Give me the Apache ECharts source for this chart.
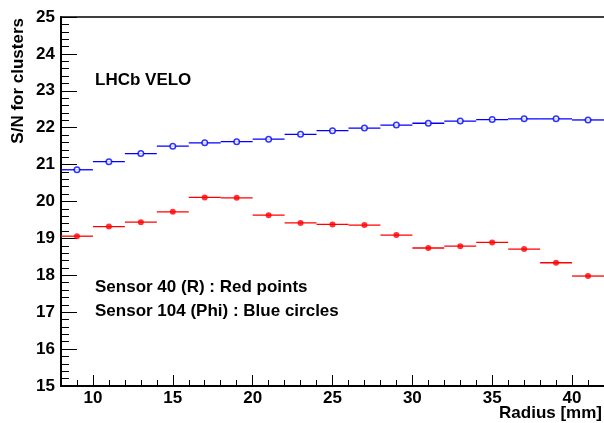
<!DOCTYPE html>
<html>
<head>
<meta charset="utf-8">
<script src="https://cdn.jsdelivr.net/npm/echarts@6/dist/echarts.min.js"></script>
<style>
  html, body { margin: 0; padding: 0; background: #fff; }
  #chart { width: 604px; height: 423px; }
</style>
</head>
<body>
<div id="chart"></div>
<script>
// bin centres (mm), each bin is 2 mm wide
var radius = [9, 11, 13, 15, 17, 19, 21, 23, 25, 27, 29, 31, 33, 35, 37, 39, 41];
// Sensor 40 (R) - red points
var snR = [19.06, 19.32, 19.44, 19.72, 20.11, 20.10, 19.63, 19.42, 19.38, 19.36, 19.09, 18.74, 18.79, 18.89, 18.71, 18.34, 17.98];
// Sensor 104 (Phi) - blue circles
var snPhi = [20.86, 21.08, 21.30, 21.50, 21.59, 21.62, 21.69, 21.82, 21.92, 21.99, 22.07, 22.12, 22.18, 22.22, 22.24, 22.24, 22.21];
var xMajor = [10, 15, 20, 25, 30, 35, 40];
var halfBin = 1;

var FONT = '"Liberation Sans", Arial, Helvetica, sans-serif';

function pairs(ys) {
    var out = [];
    for (var i = 0; i < radius.length; i++) {
        out.push([radius[i], ys[i]]);
    }
    return out;
}

// horizontal bar over the bin width
function binBar(color) {
    return function (params, api) {
        var x = api.value(0), y = api.value(1);
        var a = api.coord([x - halfBin, y]);
        var b = api.coord([x + halfBin, y]);
        return {
            type: 'line',
            shape: { x1: a[0], y1: a[1], x2: b[0], y2: b[1] },
            style: { stroke: color, lineWidth: 1.3 }
        };
    };
}

var labelStyle = { color: '#000', fontFamily: FONT, fontWeight: 'bold', fontSize: 17 };

var myChart = echarts.init(document.getElementById('chart'));
myChart.setOption({
    animation: false,
    backgroundColor: '#fff',
    grid: { left: 61, right: 0, top: 17, bottom: 37 },
    xAxis: [
        {   // minor ticks every 1 mm
            type: 'value', min: 8, max: 42, interval: 1, position: 'bottom',
            axisLine: { show: true, lineStyle: { color: '#000', width: 2 } },
            axisTick: { show: true, inside: true, length: 6, lineStyle: { color: '#000', width: 1 } },
            axisLabel: { show: false },
            splitLine: { show: false }
        },
        {   // major ticks + labels
            type: 'value', min: 8, max: 42, position: 'bottom',
            axisLine: { show: false },
            axisTick: { show: true, inside: true, length: 11, customValues: xMajor, lineStyle: { color: '#000', width: 1 } },
            axisLabel: Object.assign({ show: true, margin: 4, customValues: xMajor }, labelStyle),
            splitLine: { show: false }
        },
        {   // top frame
            type: 'value', min: 8, max: 42, position: 'top',
            axisLine: { show: true, lineStyle: { color: '#000', width: 1.5 } },
            axisTick: { show: false },
            axisLabel: { show: false },
            splitLine: { show: false }
        }
    ],
    yAxis: {
        type: 'value', min: 15, max: 25, interval: 1,
        axisLine: { show: true, lineStyle: { color: '#000', width: 2 } },
        axisTick: { show: true, inside: true, length: 16, lineStyle: { color: '#000', width: 1 } },
        minorTick: { show: true, splitNumber: 5, length: 8, lineStyle: { color: '#000', width: 1 } },
        axisLabel: Object.assign({ margin: 6 }, labelStyle),
        splitLine: { show: false }
    },
    graphic: [
        {
            type: 'text', x: 18, y: 18, rotation: Math.PI / 2,
            style: { text: 'S/N for clusters', font: 'bold 17px ' + FONT, fill: '#000', align: 'right', verticalAlign: 'middle' }
        },
        {
            type: 'text', x: 602, y: 413,
            style: { text: 'Radius [mm]', font: 'bold 17px ' + FONT, fill: '#000', align: 'right', verticalAlign: 'middle' }
        },
        {
            type: 'text', x: 95, y: 80,
            style: { text: 'LHCb VELO', font: 'bold 17px ' + FONT, fill: '#000', align: 'left', verticalAlign: 'middle' }
        },
        {
            type: 'text', x: 95, y: 287,
            style: { text: 'Sensor 40 (R) : Red points', font: 'bold 17px ' + FONT, fill: '#000', align: 'left', verticalAlign: 'middle' }
        },
        {
            type: 'text', x: 95, y: 311,
            style: { text: 'Sensor 104 (Phi) : Blue circles', font: 'bold 17px ' + FONT, fill: '#000', align: 'left', verticalAlign: 'middle' }
        }
    ],
    series: [
        {
            name: 'Sensor 40 bins', type: 'custom', xAxisIndex: 0,
            renderItem: binBar('#ff0000'), data: pairs(snR), z: 2
        },
        {
            name: 'Sensor 104 bins', type: 'custom', xAxisIndex: 0,
            renderItem: binBar('#0000ff'), data: pairs(snPhi), z: 2
        },
        {
            name: 'Sensor 40 (R)', type: 'scatter', xAxisIndex: 0,
            symbol: 'circle', symbolSize: 6,
            itemStyle: { color: '#ff0000' },
            data: pairs(snR), z: 3
        },
        {
            name: 'Sensor 104 (Phi)', type: 'scatter', xAxisIndex: 0,
            symbol: 'circle', symbolSize: 5.5,
            itemStyle: { color: '#ffffff', borderColor: '#0000ff', borderWidth: 1.5 },
            data: pairs(snPhi), z: 3
        }
    ]
});
</script>
</body>
</html>
